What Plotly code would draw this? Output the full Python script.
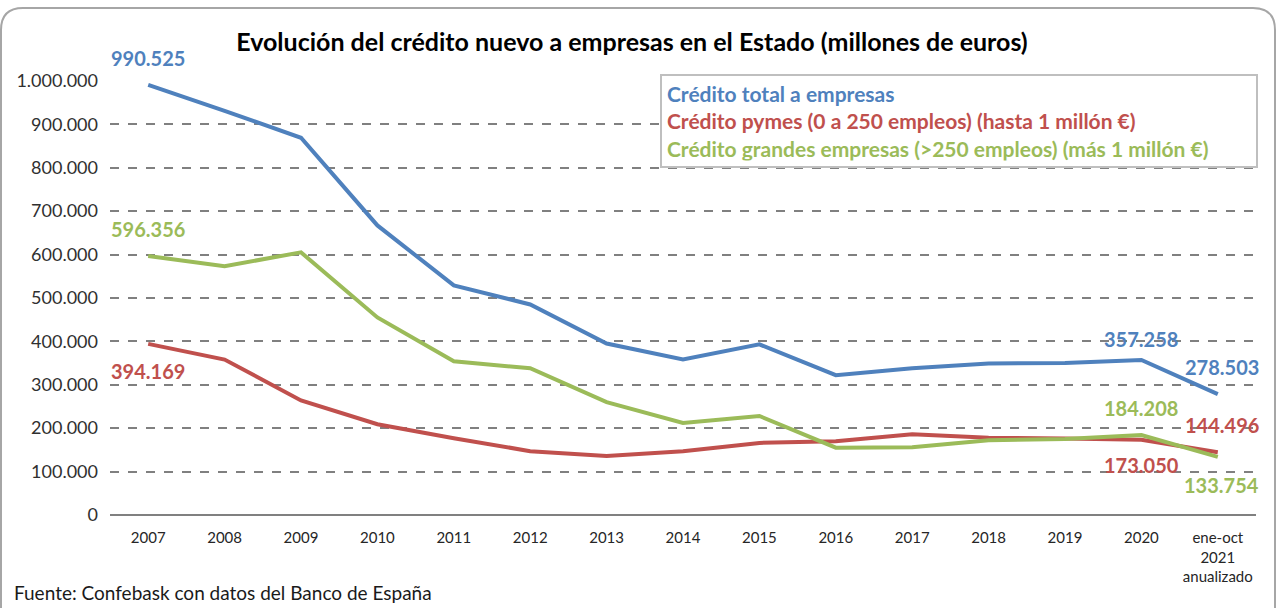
import plotly.graph_objects as go

categories = ["2007", "2008", "2009", "2010", "2011", "2012", "2013", "2014",
              "2015", "2016", "2017", "2018", "2019", "2020", "ene-oct<br>2021<br>anualizado"]
total = [990525, 931000, 869000, 667000, 529000, 485000, 395000, 358000,
         393000, 322000, 338000, 349000, 350000, 357258, 278503]
pymes = [394169, 358000, 264000, 209000, 177000, 147000, 136000, 147000,
         166000, 170000, 186000, 178000, 176000, 173050, 144496]
grandes = [596356, 573000, 605000, 455000, 354000, 338000, 260000, 212000,
           228000, 155000, 156000, 172000, 175000, 184208, 133754]
series_names = ["Crédito total a empresas",
                "Crédito pymes (0 a 250 empleos) (hasta 1 millón €)",
                "Crédito grandes empresas (>250 empleos) (más 1 millón €)"]
colors = ["#4F81BD", "#C0504D", "#9BBB59"]
title = "Evolución del crédito nuevo a empresas en el Estado (millones de euros)"
source = "Fuente: Confebask con datos del Banco de España"

def fmt(v):
    return f"{v:,}".replace(",", ".")

W, H = 1277, 608
ML, MR, MT, MB = 110, 21, 80, 93
PW, PH = W - ML - MR, H - MT - MB
FONT = "Lato"

def px(xp):
    return (xp - ML) / PW

def py(yp):
    return (H - MB - yp) / PH

fig = go.Figure()
for name, vals, col in zip(series_names, [total, pymes, grandes], colors):
    fig.add_trace(go.Scatter(x=categories, y=vals, mode="lines", name=name,
                             line=dict(color=col, width=4), showlegend=False))

# data labels (category index, series, colour, yshift, xshift)
labels = [
    (0, total, colors[0], 27, 0),
    (0, grandes, colors[2], 27, 0),
    (0, pymes, colors[1], -27, 0),
    (13, total, colors[0], 21, 0),
    (14, total, colors[0], 27, 4),
    (13, grandes, colors[2], 27, 0),
    (14, pymes, colors[1], 27, 4),
    (13, pymes, colors[1], -25, 0),
    (14, grandes, colors[2], -28, 4),
]
for i, ser, col, ys, xs in labels:
    fig.add_annotation(x=i, y=ser[i], text=f"<b>{fmt(ser[i])}</b>",
                       showarrow=False, yshift=ys, xshift=xs,
                       font=dict(family=FONT, size=20, color=col))

# legend box
legend_text = "<br>".join(
    f"<span style='color:{c}'><b>{n}</b></span>" for n, c in zip(series_names, colors))
fig.add_annotation(xref="paper", yref="paper", x=px(660), y=py(74),
                   xanchor="left", yanchor="top", align="left", showarrow=False,
                   text=legend_text, font=dict(family=FONT, size=21),
                   bordercolor="#BFBFBF", borderwidth=2, borderpad=5,
                   bgcolor="white", width=584)

# source
fig.add_annotation(xref="paper", yref="paper", x=px(12), y=py(592),
                   xanchor="left", yanchor="middle", showarrow=False, text=source,
                   font=dict(family=FONT, size=19, color="#1a1a1a"))

# rounded outer border
x0, x1, y0, y1, r = 1, 1275, 8, 640, 22
path = (f"M {px(x0)},{py(y0 + r)} Q {px(x0)},{py(y0)} {px(x0 + r)},{py(y0)} "
        f"L {px(x1 - r)},{py(y0)} Q {px(x1)},{py(y0)} {px(x1)},{py(y0 + r)} "
        f"L {px(x1)},{py(y1)} L {px(x0)},{py(y1)} Z")
fig.add_shape(type="path", xref="paper", yref="paper", path=path,
              line=dict(color="#A6A6A6", width=2), layer="below")

fig.update_layout(
    width=W, height=H, autosize=False,
    margin=dict(l=ML, r=MR, t=MT, b=MB, autoexpand=False),
    paper_bgcolor="white", plot_bgcolor="white",
    separators=",.",
    title=dict(text=f"<b>{title}</b>", x=632 / W, xanchor="center",
               y=1 - 42 / H, yanchor="middle", yref="container",
               font=dict(family=FONT, size=25, color="black")),
    font=dict(family=FONT, color="#262626"),
)
fig.update_xaxes(type="category", range=[-0.5, len(categories) - 0.5],
                 showgrid=False, showline=False, ticks="", automargin=False,
                 tickfont=dict(size=15, color="#262626"), ticklabelstandoff=12)
fig.update_yaxes(range=[0, 1002000], tickvals=list(range(0, 1000001, 100000)),
                 tickformat=",.0f", showgrid=True, gridcolor="#808080",
                 automargin=False,
                 griddash="dash", gridwidth=1.5, zeroline=True, zerolinecolor="#808080",
                 zerolinewidth=2, tickfont=dict(size=18, color="#303030"),
                 ticklabelstandoff=11)

fig.write_html("out.html", config={"displayModeBar": False},
               post_script="document.body.style.margin='0';document.body.style.overflow='hidden';")
